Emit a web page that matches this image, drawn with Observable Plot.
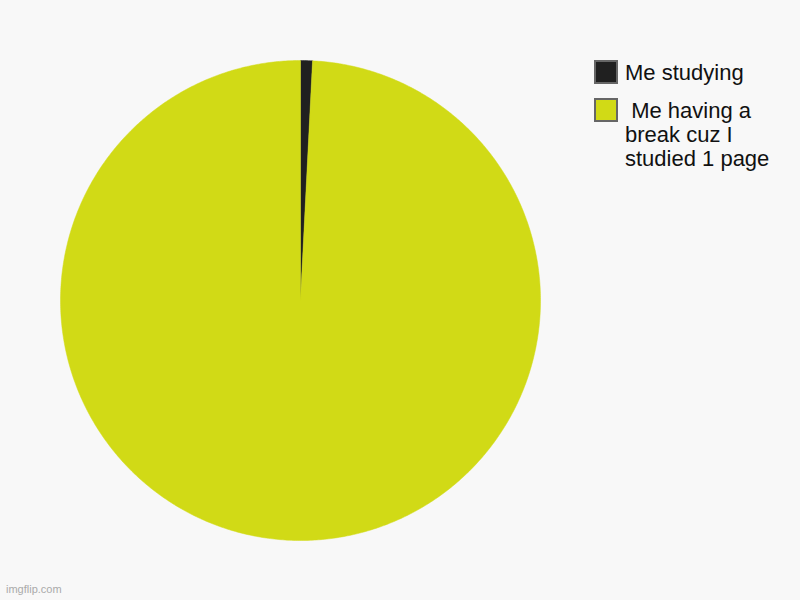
<!DOCTYPE html>
<html>
<head>
<meta charset="utf-8">
<script src="https://cdn.jsdelivr.net/npm/d3@7"></script>
<script src="https://cdn.jsdelivr.net/npm/@observablehq/plot@0.6"></script>
<style>
  html, body { margin: 0; padding: 0; background: #f8f8f8; }
  #wrap { position: relative; width: 800px; height: 600px; font-family: "Liberation Sans", Arial, sans-serif; }
  #legend { position: absolute; left: 594px; top: 60px; }
  .item { display: flex; align-items: flex-start; margin-bottom: 13px; }
  .sw { width: 20px; height: 20px; border: 2px solid #666; box-sizing: content-box; flex: none; margin-right: 7px; }
  .lab { font-size: 22px; line-height: 24px; color: #111; width: 160px; margin-top: 1px; white-space: pre-wrap; }
  #wm { position: absolute; left: 6px; top: 583px; font-size: 11px; color: #aaa; }
</style>
</head>
<body>
<div id="wrap">
  <div id="chart"></div>
  <div id="legend"></div>
  <div id="wm">imgflip.com</div>
</div>
<script>
const categories = ["Me studying", " Me having a break cuz I studied 1 page"];
const values = [0.8, 99.2];
const colors = ["#202020", "#d1da16"];

const pie = d3.pie().sort(null).value(d => d.value);
const arcs = pie(categories.map((name, i) => ({ name, value: values[i] })));

// Build polygon points for each slice in unit-circle coordinates
const pts = [];
for (const a of arcs) {
  const n = Math.max(4, Math.ceil((a.endAngle - a.startAngle) / (Math.PI / 360)));
  pts.push({ name: a.data.name, x: 0, y: 0 });
  for (let k = 0; k <= n; k++) {
    const t = a.startAngle + (a.endAngle - a.startAngle) * k / n;
    pts.push({ name: a.data.name, x: Math.sin(t), y: Math.cos(t) });
  }
  pts.push({ name: a.data.name, x: 0, y: 0 });
}

const chart = Plot.plot({
  width: 800,
  height: 600,
  marginLeft: 60,
  marginRight: 260,
  marginTop: 60,
  marginBottom: 60,
  style: { background: "#f8f8f8" },
  x: { domain: [-1, 1], axis: null },
  y: { domain: [-1, 1], axis: null },
  color: { domain: categories, range: colors },
  marks: [
    Plot.line(pts, { x: "x", y: "y", z: "name", fill: "name", stroke: "name", strokeWidth: 0.5, curve: "linear" })
  ]
});
document.getElementById("chart").appendChild(chart);

const legend = document.getElementById("legend");
categories.forEach((c, i) => {
  const item = document.createElement("div");
  item.className = "item";
  const sw = document.createElement("div");
  sw.className = "sw";
  sw.style.background = colors[i];
  const lab = document.createElement("div");
  lab.className = "lab";
  lab.textContent = c;
  item.appendChild(sw);
  item.appendChild(lab);
  legend.appendChild(item);
});
</script>
</body>
</html>
